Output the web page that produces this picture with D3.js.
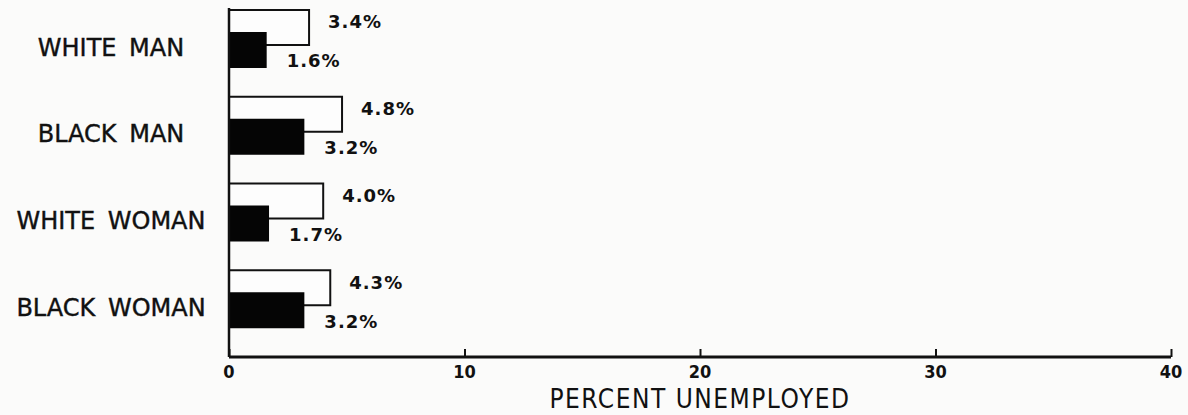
<!DOCTYPE html>
<html>
<head>
<meta charset="utf-8">
<script src="https://cdn.jsdelivr.net/npm/d3@7"></script>
<style>
  body { margin: 0; background: #fbfbfa; }
  svg { display: block; }
  text { font-family: "DejaVu Sans", sans-serif; fill: #111; }
</style>
</head>
<body>
<svg id="graph" width="1188" height="415"></svg>
<script>
// data
const groups = ["WHITE MAN", "BLACK MAN", "WHITE WOMAN", "BLACK WOMAN"];
const openValues = [3.4, 4.8, 4.0, 4.3];   // white (outlined) bars
const solidValues = [1.6, 3.2, 1.7, 3.2];  // black bars
const xTicks = [0, 10, 20, 30, 40];
const xTitle = "PERCENT UNEMPLOYED";

let svg = d3.select("#graph");

let x = d3.scaleLinear().domain([0, 40]).range([229, 1171]);
let y = d3.scaleBand().domain(groups).range([10, 357]);

let rows = groups.map((g, i) => ({ group: g, open: openValues[i], solid: solidValues[i] }));

//open bars
svg.selectAll(".open")
.data(rows)
.enter()
.append("rect")
.attr("class", "open")
.attr("x", x(0))
.attr("y", (d) => y(d.group))
.attr("width", (d) => x(d.open) - x(0))
.attr("height", 35)
.style("fill", "#fdfdfd")
.style("stroke", "#111")
.style("stroke-width", 2);

//solid bars on top
svg.selectAll(".solid")
.data(rows)
.enter()
.append("rect")
.attr("class", "solid")
.attr("x", x(0))
.attr("y", (d) => y(d.group) + 22)
.attr("width", (d) => x(d.solid) - x(0))
.attr("height", 36)
.style("fill", "#050505");

//value labels
svg.selectAll(".openLabel")
.data(rows)
.enter()
.append("text")
.attr("x", (d) => x(d.open) + 19)
.attr("y", (d) => y(d.group) + 12)
.attr("dy", "0.36em")
.style("font-size", "18px")
.style("font-weight", "bold")
.style("letter-spacing", "1px")
.text((d) => d.open.toFixed(1) + "%");

svg.selectAll(".solidLabel")
.data(rows)
.enter()
.append("text")
.attr("x", (d) => x(d.solid) + 20)
.attr("y", (d) => y(d.group) + 51)
.attr("dy", "0.36em")
.style("font-size", "18px")
.style("font-weight", "bold")
.style("letter-spacing", "1px")
.text((d) => d.solid.toFixed(1) + "%");

//category labels
svg.selectAll(".cat")
.data(groups)
.enter()
.append("text")
.attr("x", 111)
.attr("y", (d) => y(d) + 37)
.attr("dy", "0.36em")
.attr("text-anchor", "middle")
.style("font-size", "24px")
.style("word-spacing", "5px")
.style("stroke", "#111")
.style("stroke-width", 0.4)
.text((d) => d);

//axes
let xAxis = d3.axisTop(x).tickValues(xTicks).tickSize(8).tickFormat("");
let gx = svg.append("g")
.attr("transform", "translate(0,357)")
.call(xAxis);
gx.select(".domain").remove();
gx.selectAll(".tick line").style("stroke", "#111").style("stroke-width", 2);

svg.append("line")
.attr("x1", x(0)).attr("x2", x(40))
.attr("y1", 357).attr("y2", 357)
.style("stroke", "#111").style("stroke-width", 3);

svg.append("line")
.attr("x1", x(0)).attr("x2", x(0))
.attr("y1", 8).attr("y2", 357)
.style("stroke", "#111").style("stroke-width", 2.5);

svg.selectAll(".tickLabel")
.data(xTicks)
.enter()
.append("text")
.attr("x", (d) => x(d))
.attr("y", 372)
.attr("dy", "0.36em")
.attr("text-anchor", "middle")
.style("font-family", "'DejaVu Sans Condensed', sans-serif")
.style("font-size", "18px")
.style("font-weight", "bold")
.text((d) => d);

svg.append("text")
.attr("x", 700)
.attr("y", 399)
.attr("dy", "0.36em")
.attr("text-anchor", "middle")
.style("font-family", "'DejaVu Sans Condensed', sans-serif")
.style("font-size", "26px")
.style("letter-spacing", "1.5px")
.text(xTitle);
</script>
</body>
</html>
